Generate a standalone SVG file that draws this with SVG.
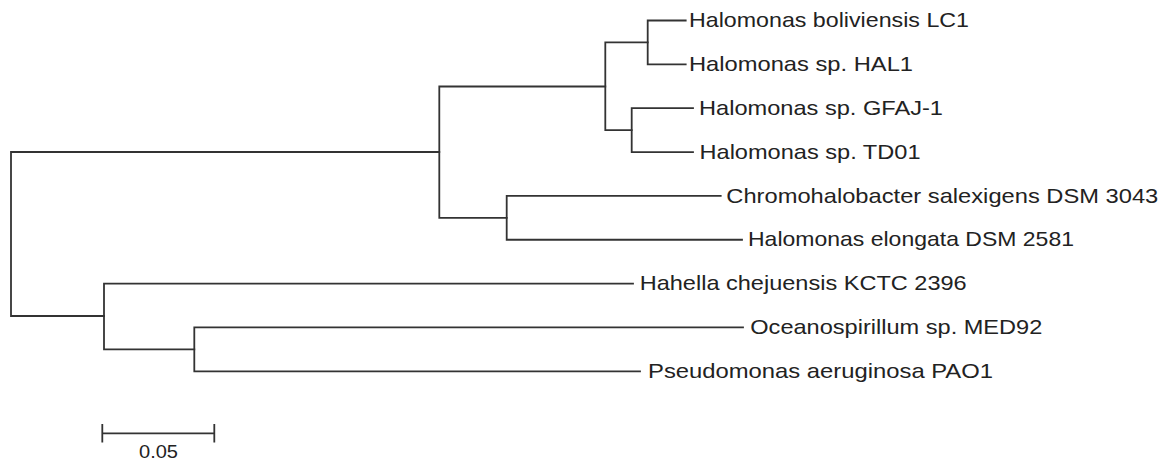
<svg xmlns="http://www.w3.org/2000/svg" width="1166" height="462" viewBox="0 0 1166 462">
<style>
.br{fill:none;stroke:#333;stroke-width:1.8;stroke-linecap:square;stroke-linejoin:miter}
.lb{font-family:"Liberation Sans",Arial,sans-serif;font-size:21px;fill:#222}
.sc{font-family:"Liberation Sans",Arial,sans-serif;font-size:18.5px;fill:#222}
</style>
<rect width="1166" height="462" fill="#fff"/>
<g id="connectors">
<path class="br" d="M439.3,152 H11 V316 H104"/>
<path class="br" d="M605.3,86.5 H439.3 V217.8 H506.7"/>
<path class="br" d="M685.7,20.5 H647.7 V64.35 H685.7"/>
<path class="br" d="M647.7,42.4 H605.3 V130.1 H631.7"/>
<path class="br" d="M693,108.2 H631.7 V152.05 H693"/>
<path class="br" d="M720.7,195.9 H506.7 V239.75 H742"/>
<path class="br" d="M633,283.6 H104 V349.4 H194.3"/>
<path class="br" d="M743,327.45 H194.3 V371.3 H640"/>
</g>
<g id="leaf-boliviensis"><text class="lb" x="689" y="27" textLength="280" lengthAdjust="spacingAndGlyphs">Halomonas boliviensis LC1</text></g>
<g id="leaf-hal1"><text class="lb" x="689" y="71" textLength="224" lengthAdjust="spacingAndGlyphs">Halomonas sp. HAL1</text></g>
<g id="leaf-gfaj1"><text class="lb" x="699" y="115" textLength="244" lengthAdjust="spacingAndGlyphs">Halomonas sp. GFAJ-1</text></g>
<g id="leaf-td01"><text class="lb" x="699.5" y="158.8" textLength="221" lengthAdjust="spacingAndGlyphs">Halomonas sp. TD01</text></g>
<g id="leaf-chromo"><text class="lb" x="726.3" y="202.5" textLength="432" lengthAdjust="spacingAndGlyphs">Chromohalobacter salexigens DSM 3043</text></g>
<g id="leaf-elongata"><text class="lb" x="748" y="246.3" textLength="326" lengthAdjust="spacingAndGlyphs">Halomonas elongata DSM 2581</text></g>
<g id="leaf-hahella"><text class="lb" x="639.7" y="290.1" textLength="327" lengthAdjust="spacingAndGlyphs">Hahella chejuensis KCTC 2396</text></g>
<g id="leaf-oceano"><text class="lb" x="750.3" y="334" textLength="292" lengthAdjust="spacingAndGlyphs">Oceanospirillum sp. MED92</text></g>
<g id="leaf-pseudo"><text class="lb" x="648" y="377.8" textLength="345" lengthAdjust="spacingAndGlyphs">Pseudomonas aeruginosa PAO1</text></g>
<g id="scale-bar">
<path class="br" d="M102.3,433.3 H214.3 M102.3,425 V441.7 M214.3,425 V441.7"/>
<text class="sc" x="139" y="458.3" textLength="39" lengthAdjust="spacingAndGlyphs">0.05</text>
</g>
</svg>
